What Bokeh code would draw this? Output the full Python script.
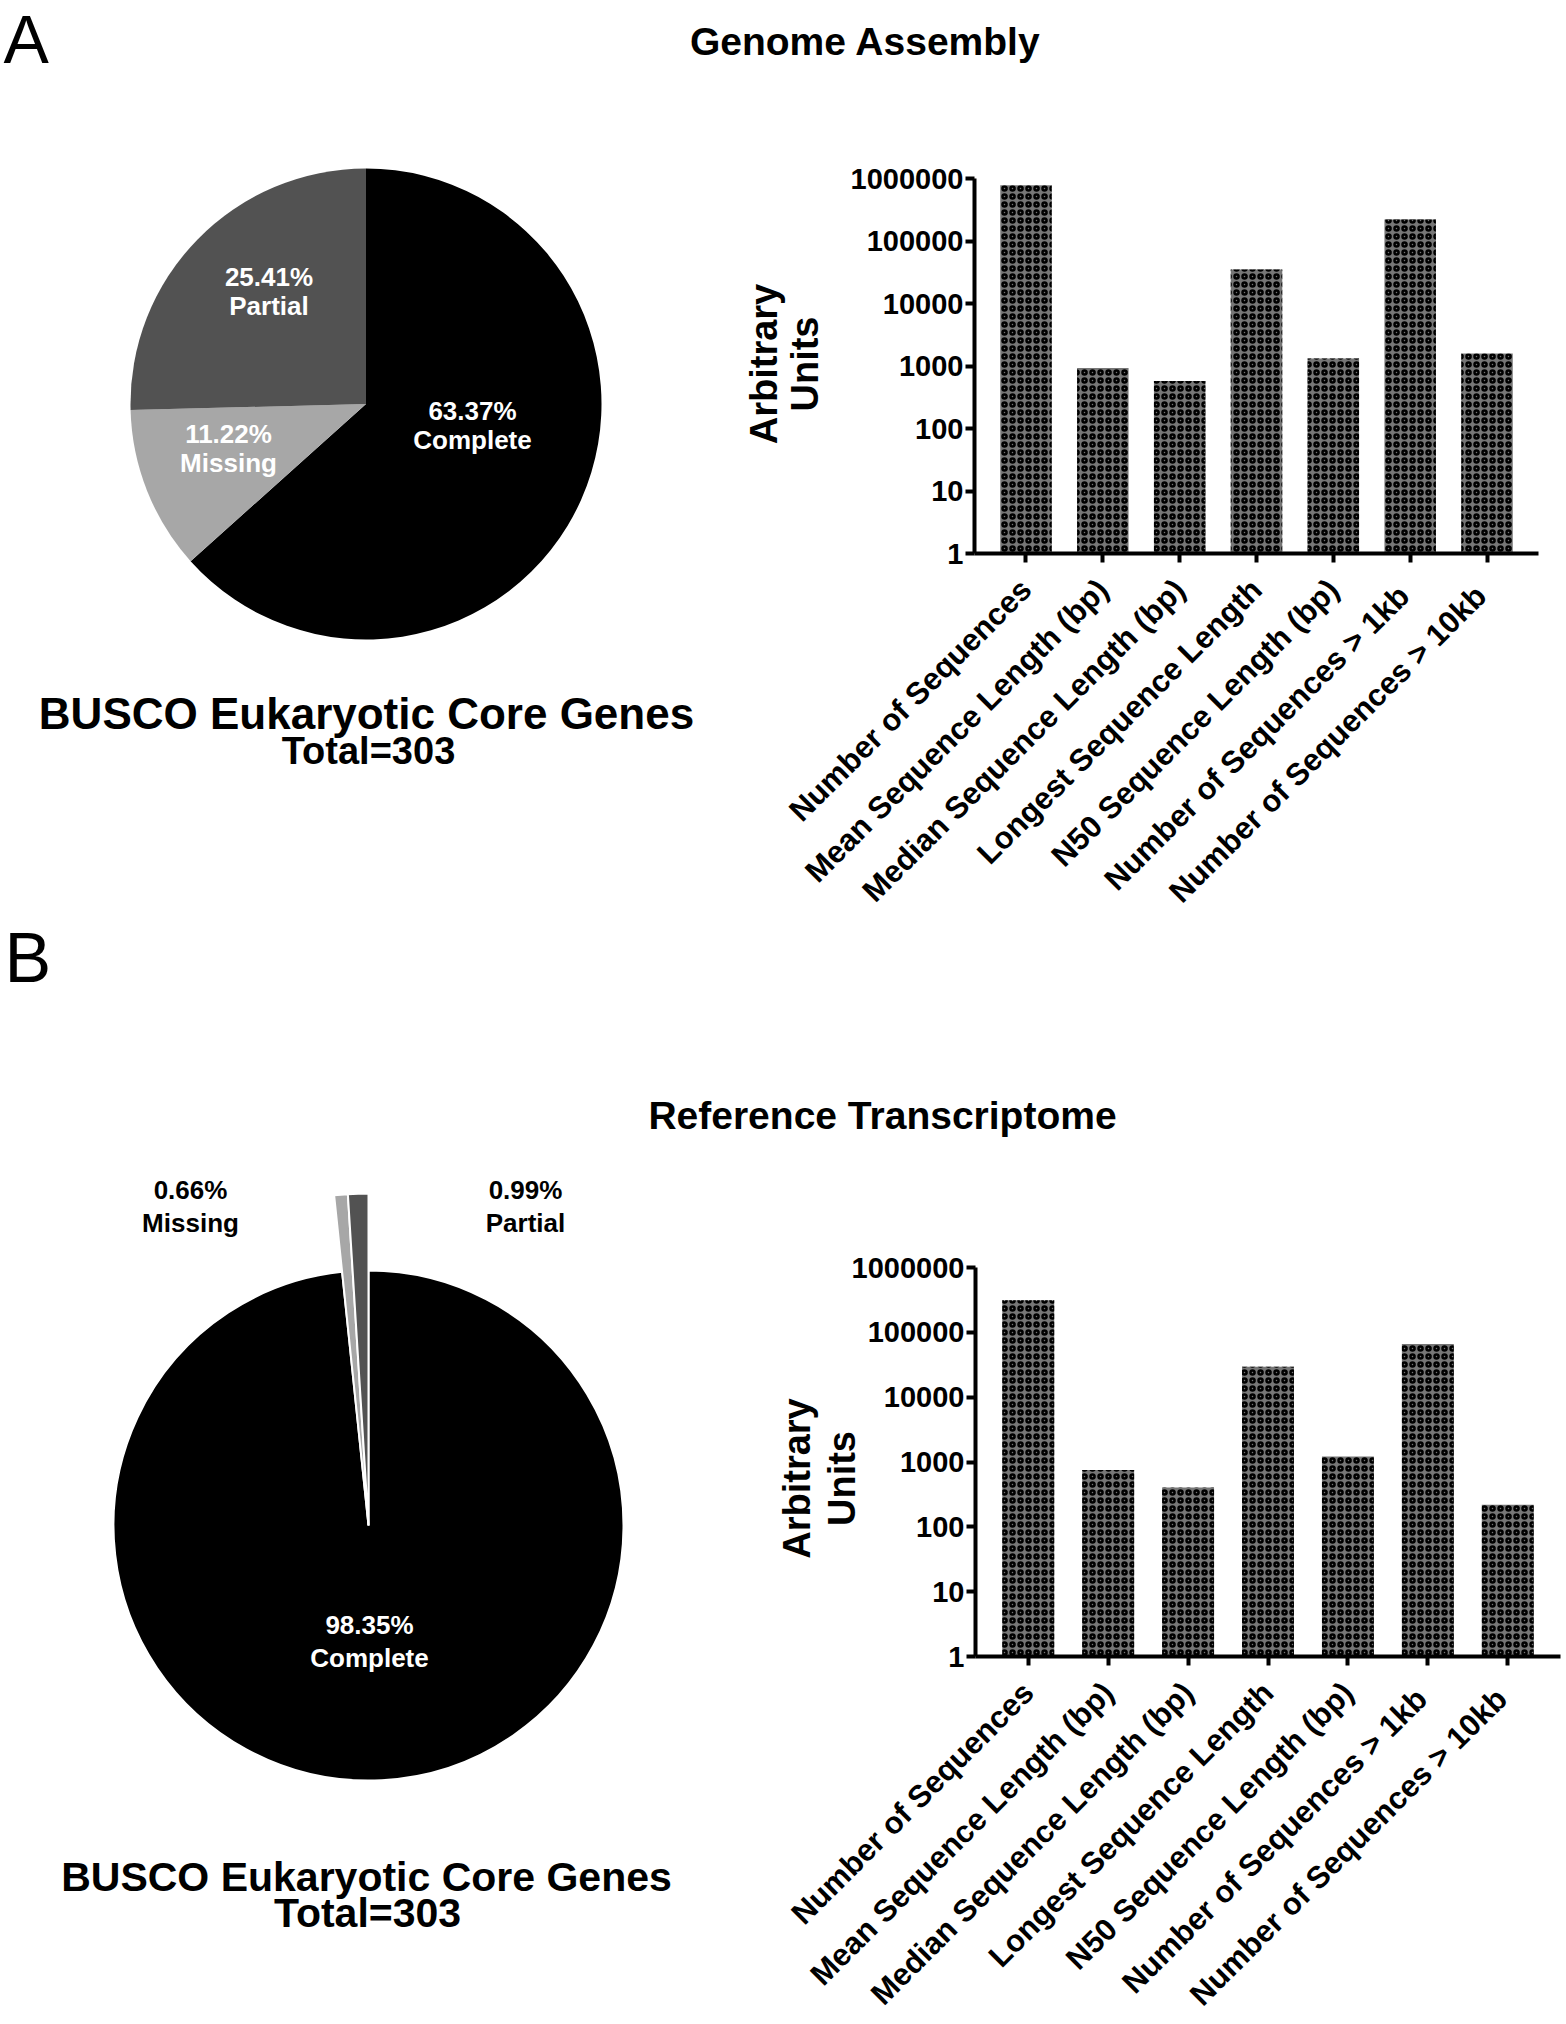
import numpy as np
from math import pi
from bokeh.plotting import figure
from bokeh.models import (Range1d, FixedTicker, NumeralTickFormatter, ColumnDataSource,
                          LinearScale, LogScale, LinearAxis, LogAxis)
from bokeh.core.properties import value
from bokeh.embed import file_html
from bokeh.resources import INLINE

FONT = "Liberation Sans"

# ---------------- data ----------------
categories = ["Number of Sequences", "Mean Sequence Length (bp)",
              "Median Sequence Length (bp)", "Longest Sequence Length",
              "N50 Sequence Length (bp)", "Number of  Sequences > 1kb",
              "Number of  Sequences > 10kb"]
genome_values = [782000, 933, 578, 35000, 1318, 221000, 1585]
transcriptome_values = [313000, 753, 406, 29400, 1220, 65800, 220]
y_ticks = [1, 10, 100, 1000, 10000, 100000, 1000000]

busco_classes = ["Complete", "Missing", "Partial"]
genome_busco_pct = [63.37, 11.22, 25.41]
transcriptome_busco_pct = [98.35, 0.66, 0.99]
busco_total = 303

panel_letters = ["A", "B"]
panel_titles = ["Genome Assembly", "Reference Transcriptome"]
busco_title = "BUSCO Eukaryotic Core Genes"
y_label_lines = ["Arbitrary", "Units"]

# ---------------- layout / styles ----------------
W, H = 1562, 2020          # canvas size in page pixels
slice_colors = ["#000000", "#a7a7a7", "#525252"]

p = figure(width=W, height=H,
           x_range=Range1d(0, W), y_range=Range1d(-H, 0),
           x_axis_location=None, y_axis_location=None,
           toolbar_location=None, output_backend="svg",
           min_border=0, outline_line_color=None)
p.grid.visible = False

extra_x_ranges, extra_x_scales = {}, {}
extra_y_ranges, extra_y_scales = {}, {}


def add_text(xs, baselines, texts, size, color="black", style="bold", align="center"):
    # text is anchored a little above its baseline (0.4 em) to land on the baseline
    p.text(x=list(xs), y=[-(b - 0.4 * size) for b in baselines], text=list(texts),
           text_font=value(FONT), text_font_size=f"{size}px", text_font_style=style,
           text_color=color, text_align=align, text_baseline="alphabetic")


def add_vtext(baseline_xs, cy, texts, size):
    # vertical text reading bottom-to-top, baseline on its right side
    p.text(x=[b - 0.4 * size for b in baseline_xs], y=[-cy] * len(texts),
           text=list(texts), angle=pi / 2,
           text_font=value(FONT), text_font_size=f"{size}px", text_font_style="bold",
           text_color="black", text_align="center", text_baseline="alphabetic")


def add_pie(cx, cy, pct, radii, line_color, line_width):
    frac = np.array(pct, dtype=float) / np.sum(pct)
    cum = np.concatenate([[0.0], np.cumsum(frac)])
    start = pi / 2 - 2 * pi * cum[1:]
    end = pi / 2 - 2 * pi * cum[:-1]
    src = ColumnDataSource(dict(start=start, end=end, color=slice_colors,
                                r=radii, cls=busco_classes))
    p.wedge(x=cx, y=-cy, radius="r", start_angle="start", end_angle="end",
            fill_color="color", line_color=line_color, line_width=line_width,
            source=src)


def add_pie_labels(cx, cy, pct, offsets, colors, size, gap):
    for k, cls in enumerate(busco_classes):
        dx, dy = offsets[k]
        add_text([cx + dx, cx + dx], [cy + dy, cy + dy + gap],
                 [f"{pct[k]:.2f}%", cls], size, color=colors[k])


def add_bar_panel(key, values, frame, pad, bar_width):
    fl, fr, ft, fb = frame       # frame edges in page pixels
    n = len(categories)
    lo, hi = -0.5 - pad, n - 0.5 + pad
    kx = (hi - lo) / (fr - fl)
    extra_x_ranges[key] = Range1d(lo + (0 - fl) * kx, lo + (W - fl) * kx)
    extra_x_scales[key] = LinearScale()
    dec = 6.0 / (fb - ft)
    extra_y_ranges[key] = Range1d(10 ** ((fb - H) * dec), 10 ** (fb * dec))
    extra_y_scales[key] = LogScale()

    xs = np.arange(n)
    p.vbar(x=xs, top=values, bottom=1, width=bar_width,
           x_range_name=key, y_range_name=key,
           fill_color="#767676", line_color=None,
           hatch_pattern="ring", hatch_color="black", hatch_scale=8,
           hatch_weight=2.5)

    yax = LogAxis(x_range_name=key, y_range_name=key, fixed_location=lo,
                  bounds=(y_ticks[0], y_ticks[-1]),
                  ticker=FixedTicker(ticks=y_ticks),
                  formatter=NumeralTickFormatter(format="0"))
    xax = LinearAxis(x_range_name=key, y_range_name=key, fixed_location=y_ticks[0],
                     bounds=(lo, hi), ticker=FixedTicker(ticks=list(xs)),
                     major_label_overrides={int(i): c for i, c in zip(xs, categories)})
    for ax in (xax, yax):
        ax.axis_line_width = 4
        ax.axis_line_color = "black"
        ax.major_tick_line_width = 4
        ax.major_tick_line_color = "black"
        ax.major_tick_out = 9
        ax.major_tick_in = 0
        ax.minor_tick_line_color = None
        ax.major_label_text_font = FONT
        ax.major_label_text_font_style = "bold"
        ax.major_label_text_color = "black"
    yax.major_label_text_font_size = "29px"
    yax.major_label_standoff = 2
    xax.major_label_orientation = pi / 4
    xax.major_label_text_font_size = "31px"
    xax.major_label_standoff = 22
    p.add_layout(yax, "left")
    p.add_layout(xax, "below")


# ---------------- panel A ----------------
add_text([3], [66], [panel_letters[0]], 68, style="normal", align="left")
add_text([865], [57], [panel_titles[0]], 39)

cxA, cyA = 365.5, 403.5
add_pie(cxA, cyA, genome_busco_pct, [235.5, 235.5, 235.5], None, 0)
add_pie_labels(cxA, cyA, genome_busco_pct,
               [(106.5, 17.5), (-137.5, 40.5), (-97, -116.5)],
               ["white", "white", "white"], 26, 29)
add_text([366], [731], [busco_title], 44)
add_text([368], [766], [f"Total={busco_total}"], 38)

add_bar_panel("A", genome_values, (974, 1538, 178, 553), 0.17, 0.67)
add_vtext([779, 820], 363.5, y_label_lines, 38)

# ---------------- panel B ----------------
add_text([4], [985], [panel_letters[1]], 70, style="normal", align="left")
add_text([882], [1131], [panel_titles[1]], 39)

cxB, cyB = 368, 1525
add_pie(cxB, cyB, transcriptome_busco_pct, [255, 332, 332], "white", 2)
add_pie_labels(cxB, cyB, transcriptome_busco_pct,
               [(1, 110), (-178, -325), (157, -325)],
               ["white", "black", "black"], 26, 33)
add_text([366], [1893], [busco_title], 41)
add_text([367], [1929], [f"Total={busco_total}"], 41)

add_bar_panel("B", transcriptome_values, (975, 1560, 1267, 1656), 0.16, 0.65)
add_vtext([812, 857], 1478, y_label_lines, 38)

p.extra_x_ranges = extra_x_ranges
p.extra_x_scales = extra_x_scales
p.extra_y_ranges = extra_y_ranges
p.extra_y_scales = extra_y_scales

open("out.html", "w").write(file_html(p, INLINE))
